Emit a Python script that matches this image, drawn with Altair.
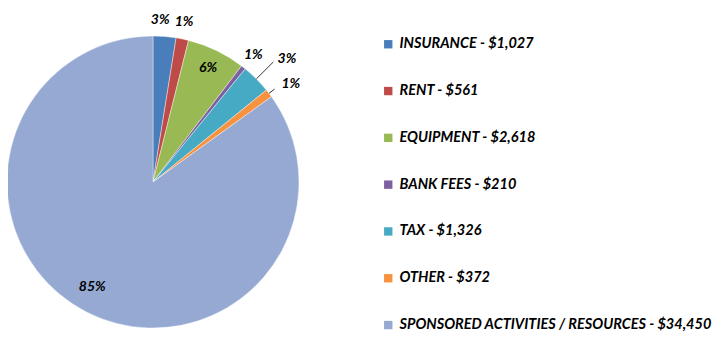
import altair as alt
import pandas as pd

categories = ["INSURANCE", "RENT", "EQUIPMENT", "BANK FEES", "TAX", "OTHER",
              "SPONSORED ACTIVITIES / RESOURCES"]
amounts = [1027, 561, 2618, 210, 1326, 372, 34450]
pct_labels = ["3%", "1%", "6%", "1%", "3%", "1%", "85%"]
colors = ["#4A7EBB", "#BE4B48", "#98B954", "#7D60A0", "#46AAC5", "#F69240", "#95A9D3"]

# style: label radius, angle nudge (deg) and leader-line outer radius per slice (0 = none)
label_radius = [162, 163, 127, 162, 182, 169, 121]
label_nudge = [-2.0, -0.6, 0, 0, 2.3, 2.0, 3.0]
leader_radius = [0, 0, 0, 0, 170, 153, 0]

legend_labels = [f"{c} - ${a:,}" for c, a in zip(categories, amounts)]

df = pd.DataFrame({
    "cat": legend_labels,
    "amount": amounts,
    "pct": pct_labels,
    "order": list(range(len(categories))),
    "lr": label_radius,
    "nudge": label_nudge,
    "ld": leader_radius,
})

CX, CY, R = 145, 174, 146

pie = alt.Chart(df).mark_arc(outerRadius=R, stroke="white", strokeWidth=0.4).encode(
    theta=alt.Theta("amount:Q", stack=True),
    order=alt.Order("order:Q"),
    x=alt.value(CX), y=alt.value(CY),
    color=alt.Color(
        "cat:N",
        scale=alt.Scale(domain=legend_labels, range=colors),
        sort=legend_labels,
        legend=alt.Legend(
            title=None, orient="none", legendX=373, legendY=29,
            symbolType="square", symbolSize=70, symbolStrokeWidth=0,
            labelFont="Lato", labelFontSize=14.5, labelFontWeight="bold",
            labelFontStyle="italic", labelColor="#000000",
            rowPadding=31.8, labelLimit=400, labelOffset=4,
        ),
    ),
)

geo = alt.Chart(df).transform_window(
    cum="sum(amount)", sort=[alt.SortField("order")],
    frame=[None, 0],
).transform_joinaggregate(
    total="sum(amount)"
).transform_calculate(
    a="(datum.cum - datum.amount / 2) / datum.total * 2 * PI",
).transform_calculate(
    b="datum.a + datum.nudge * PI / 180",
    x1=f"{CX} + {R} * sin(datum.a)",
    y1=f"{CY} - {R} * cos(datum.a)",
    x2=f"{CX} + datum.ld * sin(datum.a)",
    y2=f"{CY} - datum.ld * cos(datum.a)",
).transform_calculate(
    lx=f"{CX} + datum.lr * sin(datum.b)",
    ly=f"{CY} - datum.lr * cos(datum.b)",
)

labels = geo.mark_text(font="Lato", fontSize=14, fontWeight="bold",
                       fontStyle="italic", color="#000000",
                       align="center", baseline="middle").encode(
    x=alt.X("lx:Q", scale=None, axis=None),
    y=alt.Y("ly:Q", scale=None, axis=None),
    text="pct:N",
)

leaders = geo.transform_filter("datum.ld > 0").mark_rule(
    color="#000000", strokeWidth=0.8).encode(
    x=alt.X("x1:Q", scale=None, axis=None),
    y=alt.Y("y1:Q", scale=None, axis=None),
    x2="x2:Q", y2="y2:Q",
)

chart = alt.layer(pie, leaders, labels).properties(
    width=707, height=348, padding=0,
    autosize=alt.AutoSizeParams(type="none"),
).configure_view(stroke=None)

chart.save("out.html", embed_options={"renderer": "svg", "actions": False})
